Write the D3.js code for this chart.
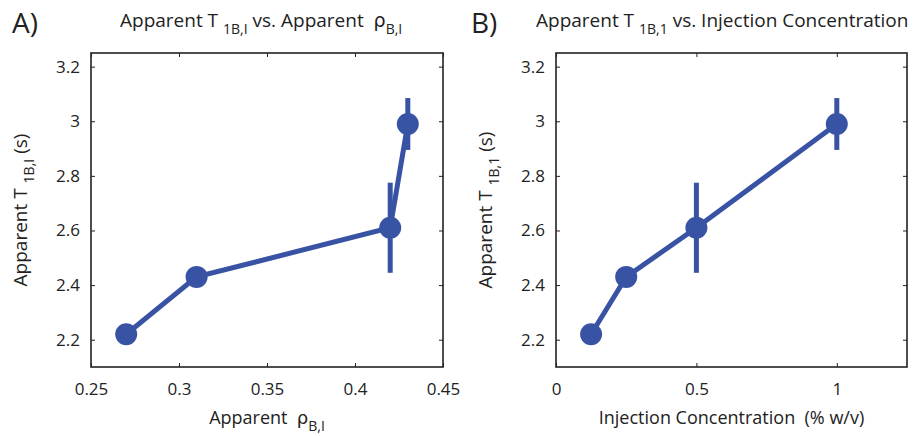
<!DOCTYPE html>
<html>
<head>
<meta charset="utf-8">
<script src="https://cdn.jsdelivr.net/npm/d3@7"></script>
<style>
  body { margin: 0; background: #fff; }
  text { font-family: "Open Sans", sans-serif; fill: #222; white-space: pre; }
</style>
</head>
<body>
<div id="chart"></div>
<script>
// data
var t1 = [2.22, 2.43, 2.61, 2.99];
var t1Err = [0.01, 0.01, 0.165, 0.095];
var rho = [0.27, 0.31, 0.42, 0.43];
var conc = [0.125, 0.25, 0.5, 1];

var yTicks = [2.2, 2.4, 2.6, 2.8, 3, 3.2];
var rhoTicks = [0.25, 0.3, 0.35, 0.4, 0.45];
var concTicks = [0, 0.5, 1];

var W = 918, H = 436,
  blue = "#3953a4";

var svg = d3.select("#chart").append("svg")
  .attr("width", W)
  .attr("height", H);

// one panel: x values, x domain, ticks, geometry
function panel(opts) {
  var x = d3.scaleLinear().domain(opts.xDomain).range([opts.left, opts.right]);
  var y = d3.scaleLinear().domain([2.1, 3.25]).range([367, 53]);
  var g = svg.append("g");

  // frame
  g.append("rect")
    .attr("x", opts.left).attr("y", 53)
    .attr("width", opts.right - opts.left).attr("height", 367 - 53)
    .attr("fill", "none").attr("stroke", "#222").attr("stroke-width", 1.6);

  var xAxis = g.append("g")
    .attr("transform", "translate(0,367)")
    .call(d3.axisBottom(x).tickValues(opts.xTicks).tickSize(-4).tickPadding(16)
      .tickFormat(function(d){ return String(d); }));
  var xTop = g.append("g")
    .attr("transform", "translate(0,53)")
    .call(d3.axisTop(x).tickValues(opts.xTicks).tickSize(-4).tickFormat(""));
  var yAxis = g.append("g")
    .attr("transform", "translate(" + opts.left + ",0)")
    .call(d3.axisLeft(y).tickValues(yTicks).tickSize(-4).tickPadding(11)
      .tickFormat(function(d){ return String(d); }));
  var yRight = g.append("g")
    .attr("transform", "translate(" + opts.right + ",0)")
    .call(d3.axisRight(y).tickValues(yTicks).tickSize(-4).tickFormat(""));
  [xAxis, xTop, yAxis, yRight].forEach(function(a){
    a.select(".domain").remove();
    a.selectAll("line").attr("stroke", "#222");
    a.selectAll("text").attr("font-size", "17px").attr("font-family", "Open Sans, sans-serif").attr("fill", "#222");
  });

  var pts = opts.xs.map(function(v, i){ return [v, t1[i], t1Err[i]]; });

  // error bars
  g.selectAll(".err")
    .data(pts)
    .enter()
    .append("line")
    .attr("class", "err")
    .attr("x1", function(d){ return x(d[0]); })
    .attr("x2", function(d){ return x(d[0]); })
    .attr("y1", function(d){ return y(d[1] - d[2]); })
    .attr("y2", function(d){ return y(d[1] + d[2]); })
    .attr("stroke", blue).attr("stroke-width", 5);

  // line
  g.append("path")
    .datum(pts)
    .attr("d", d3.line().x(function(d){ return x(d[0]); }).y(function(d){ return y(d[1]); }))
    .attr("fill", "none").attr("stroke", blue).attr("stroke-width", 5);

  // markers
  g.selectAll(".pt")
    .data(pts)
    .enter()
    .append("circle")
    .attr("class", "pt")
    .attr("cx", function(d){ return x(d[0]); })
    .attr("cy", function(d){ return y(d[1]); })
    .attr("r", 11)
    .attr("fill", blue);

  // panel letter
  svg.append("text")
    .attr("x", opts.letterX).attr("y", 33)
    .attr("font-size", "28px")
    .text(opts.letter);

  // title
  var title = svg.append("text")
    .attr("x", opts.titleX).attr("y", 27)
    .attr("font-size", "19px");
  opts.title(title);

  // x label
  var xl = svg.append("text")
    .attr("x", (opts.left + opts.right) / 2).attr("y", 424)
    .attr("text-anchor", "middle")
    .attr("font-size", "18px");
  opts.xLabel(xl);

  // y label
  var yl = svg.append("text")
    .attr("transform", "translate(" + (opts.left - 64) + "," + ((53 + 367) / 2) + ") rotate(-90)")
    .attr("text-anchor", "middle")
    .attr("font-size", "19px");
  yl.append("tspan").text("Apparent T ");
  yl.append("tspan").attr("font-size", "14px").attr("dy", 7).text(opts.sub);
  yl.append("tspan").attr("dy", -7).text(" (s)");
}

panel({
  xs: rho, xDomain: [0.25, 0.45], xTicks: rhoTicks,
  left: 91, right: 443, letter: "A)", letterX: 12, titleX: 120, sub: "1B,I",
  title: function(t){
    t.append("tspan").text("Apparent T ");
    t.append("tspan").attr("font-size", "14px").attr("dy", 7).text("1B,I");
    t.append("tspan").attr("dy", -7).text(" vs. Apparent  ");
    t.append("tspan").attr("font-family", "DejaVu Sans, sans-serif").text("\u03C1");
    t.append("tspan").attr("font-size", "14px").attr("dy", 7).text("B,I");
  },
  xLabel: function(t){
    t.append("tspan").text("Apparent  ");
    t.append("tspan").attr("font-family", "DejaVu Sans, sans-serif").text("\u03C1");
    t.append("tspan").attr("font-size", "14px").attr("dy", 7).text("B,I");
  }
});

panel({
  xs: conc, xDomain: [0, 1.25], xTicks: concTicks,
  left: 556, right: 907, letter: "B)", letterX: 471, titleX: 536, sub: "1B,1",
  title: function(t){
    t.append("tspan").text("Apparent T ");
    t.append("tspan").attr("font-size", "14px").attr("dy", 7).text("1B,1");
    t.append("tspan").attr("dy", -7).text(" vs. Injection Concentration");
  },
  xLabel: function(t){
    t.text("Injection Concentration  (% w/v)");
  }
});
</script>
</body>
</html>
